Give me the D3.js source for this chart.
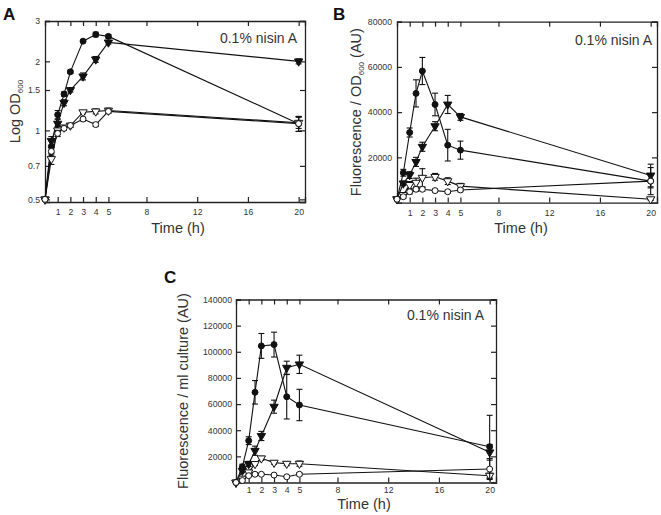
<!DOCTYPE html>
<html><head><meta charset="utf-8">
<script src="https://cdn.jsdelivr.net/npm/d3@7"></script>
<style>body{margin:0;background:#fff} text{font-family:"Liberation Sans",Arial,sans-serif}</style>
</head><body><svg id="c" width="661" height="515"></svg>
<script>
const times = [0, 0.5, 1, 1.5, 2, 3, 4, 5, 20];
const xTicks = [1, 2, 3, 4, 5, 8, 12, 16, 20];

// Panel A: Log OD600
const aTicks = [0.5, 0.7, 1, 1.5, 2, 3];
const aFilledCircle   = [0.5, 0.85, 1.17, 1.44, 1.80, 2.45, 2.62, 2.57, 1.07];
const aFilledCircleE  = [0, 0.05, 0.05, 0.03, 0.03, 0.03, 0.06, 0.05, 0.08];
const aFilledTri      = [0.5, 0.9, 1.07, 1.32, 1.50, 1.72, 2.04, 2.42, 2.0];
const aFilledTriE     = [0, 0.04, 0.05, 0.04, 0.03, 0.06, 0.06, 0.04, 0.05];
const aOpenTri        = [0.5, 0.75, 1.0, 1.03, 1.05, 1.20, 1.21, 1.22, 1.08];
const aOpenTriE       = [0, 0.04, 0.04, 0.02, 0.02, 0.02, 0.03, 0.03, 0.06];
const aOpenCircle     = [0.5, 0.81, 0.97, 1.02, 1.05, 1.12, 1.06, 1.21, 1.07];
const aOpenCircleE    = [0, 0.03, 0.03, 0.02, 0.02, 0.02, 0.02, 0.02, 0.08];

// Panel B: Fluorescence / OD600
const bTicks = [20000, 40000, 60000, 80000];
const bFilledCircle   = [1500, 13200, 31000, 48300, 58200, 43400, 25400, 23200, 9500];
const bFilledCircleE  = [500, 1500, 2000, 6000, 6000, 5000, 7000, 4000, 6000];
const bFilledTri      = [1500, 8500, 12200, 18000, 24700, 33800, 43400, 37900, 12000];
const bFilledTriE     = [500, 1000, 1500, 2000, 2000, 2000, 4000, 1500, 5000];
const bOpenTri        = [1500, 3400, 7800, 8800, 11000, 11400, 9500, 7300, 1500];
const bOpenTriE       = [500, 800, 1500, 2000, 4000, 1500, 1500, 1200, 500];
const bOpenCircle     = [1500, 2600, 4800, 5900, 5900, 5300, 4800, 5600, 9500];
const bOpenCircleE    = [500, 600, 1000, 1000, 800, 600, 600, 800, 3000];

// Panel C: Fluorescence / ml culture
const cTicks = [20000, 40000, 60000, 80000, 100000, 120000, 140000];
const cFilledCircle   = [0, 12000, 32000, 69000, 104500, 105500, 65600, 59300, 27400];
const cFilledCircleE  = [0, 2000, 3000, 9000, 9500, 9500, 17000, 12000, 24000];
const cFilledTri      = [0, 9000, 14200, 24300, 35600, 58000, 87800, 90400, 23100];
const cFilledTriE     = [0, 1500, 2000, 3500, 3500, 5000, 5000, 7000, 6000];
const cOpenTri        = [0, 3000, 7800, 14200, 18500, 15200, 14400, 14400, 5200];
const cOpenTriE       = [0, 500, 1000, 1200, 1500, 1200, 1500, 2000, 2000];
const cOpenCircle     = [0, 1500, 5200, 6300, 6300, 5700, 4400, 6300, 10300];
const cOpenCircleE    = [0, 300, 600, 600, 600, 500, 500, 1000, 8000];

const svg = d3.select("#c");

function panel(cfg) {
  const g = svg.append("g");
  const x = d3.scaleLinear().domain([0, 20.5]).range([cfg.left, cfg.right]);
  const y = (cfg.log ? d3.scaleLog() : d3.scaleLinear()).domain(cfg.ydom).range([cfg.bottom, cfg.top]);
  const tl = 5;
  const bottomAx = d3.axisBottom(x).tickValues(xTicks).tickSize(-tl).tickPadding(cfg.xpad).tickFormat(d3.format("d"));
  const topAx = d3.axisTop(x).tickValues(xTicks).tickSize(-tl).tickFormat("");
  const leftAx = d3.axisLeft(y).tickValues(cfg.yticks).tickSize(-tl).tickPadding(cfg.ypad).tickFormat(cfg.yfmt);
  const rightAx = d3.axisRight(y).tickValues(cfg.yticks).tickSize(-tl).tickFormat("");
  const ax = [
    g.append("g").attr("transform", `translate(0,${cfg.bottom})`).call(bottomAx),
    g.append("g").attr("transform", `translate(0,${cfg.top})`).call(topAx),
    g.append("g").attr("transform", `translate(${cfg.left},0)`).call(leftAx),
    g.append("g").attr("transform", `translate(${cfg.right},0)`).call(rightAx)
  ];
  ax.forEach(a => {
    a.selectAll(".domain").attr("stroke", "#222").attr("stroke-width", 1.3);
    a.selectAll(".tick line").attr("stroke", "#222").attr("stroke-width", 1.2);
    a.selectAll("text").attr("font-size", 8.7).attr("fill", "#333")
      .style("font-family", "Liberation Sans, Arial, sans-serif");
  });

  const line = d3.line().x(d => x(d.t)).y(d => y(d.v));
  cfg.series.forEach(s => {
    const pts = times.map((t, i) => ({ t, v: s.v[i], e: s.e[i] }));
    g.append("path").datum(pts).attr("d", line).attr("fill", "none")
      .attr("stroke", "#111").attr("stroke-width", 1.1);
  });
  cfg.series.forEach(s => {
    const pts = times.map((t, i) => ({ t, v: s.v[i], e: s.e[i] }));
    const eb = g.append("g").attr("stroke", "#111").attr("stroke-width", 1.1);
    pts.filter(d => d.e > 0).forEach(d => {
      const lo = cfg.log ? Math.max(d.v - d.e, cfg.ydom[0]) : d.v - d.e;
      const y1 = y(d.v + d.e), y2 = y(lo);
      eb.append("line").attr("x1", x(d.t)).attr("x2", x(d.t)).attr("y1", y1).attr("y2", y2);
      eb.append("line").attr("x1", x(d.t) - 3).attr("x2", x(d.t) + 3).attr("y1", y1).attr("y2", y1);
      eb.append("line").attr("x1", x(d.t) - 3).attr("x2", x(d.t) + 3).attr("y1", y2).attr("y2", y2);
    });
    const isTri = s.shape === "tri";
    const sym = d3.symbol().type(isTri ? d3.symbolTriangle : d3.symbolCircle).size(isTri ? 30 : 28);
    g.append("g").selectAll("path").data(pts).join("path")
      .attr("d", sym)
      .attr("transform", d => `translate(${x(d.t)},${y(d.v)})` + (isTri ? " rotate(180)" : ""))
      .attr("fill", s.filled ? "#111" : "#fff")
      .attr("stroke", "#111").attr("stroke-width", 1);
  });

  svg.append("text").attr("x", cfg.letter[0]).attr("y", cfg.letter[1])
    .attr("font-size", 17).attr("font-weight", "bold").attr("fill", "#111").text(cfg.letterText);
  svg.append("text").attr("x", cfg.nisin[0]).attr("y", cfg.nisin[1]).attr("text-anchor", "end")
    .attr("font-size", 14).attr("fill", "#333").text("0.1% nisin A");
  svg.append("text").attr("x", cfg.time[0]).attr("y", cfg.time[1])
    .attr("text-anchor", "middle").attr("font-size", 14.5).attr("fill", "#333").text("Time (h)");
  const yl = svg.append("text")
    .attr("transform", `translate(${cfg.ylabX},${(cfg.top + cfg.bottom) / 2}) rotate(-90)`)
    .attr("text-anchor", "middle").attr("font-size", 14.5).attr("fill", "#333");
  cfg.ylab.forEach(p => {
    const ts = yl.append("tspan").text(p.t);
    if (p.sub) ts.attr("font-size", 8).attr("dy", 3);
    else if (p.after) ts.attr("dy", -3);
  });
}

const tri = "tri", circ = "circ";
panel({
  left: 45, right: 305, top: 21, bottom: 202, log: true, ydom: [0.487, 3],
  yticks: aTicks, yfmt: d => String(d), letter: [3, 20], letterText: "A", ylabX: 20,
  nisin: [297, 43], time: [178, 233], xpad: 7, ypad: 5,
  ylab: [{ t: "Log OD" }, { t: "600", sub: true }],
  series: [
    { v: aFilledCircle, e: aFilledCircleE, shape: circ, filled: true },
    { v: aFilledTri, e: aFilledTriE, shape: tri, filled: true },
    { v: aOpenTri, e: aOpenTriE, shape: tri, filled: false },
    { v: aOpenCircle, e: aOpenCircleE, shape: circ, filled: false }
  ]
});
panel({
  left: 397, right: 657, top: 21.7, bottom: 202.6, log: false, ydom: [0, 80000],
  yticks: bTicks, yfmt: d => String(d), letter: [333, 20], letterText: "B", ylabX: 361,
  nisin: [652, 45], time: [521, 233], xpad: 7, ypad: 5,
  ylab: [{ t: "Fluorescence / OD" }, { t: "600", sub: true }, { t: " (AU)", after: true }],
  series: [
    { v: bFilledCircle, e: bFilledCircleE, shape: circ, filled: true },
    { v: bFilledTri, e: bFilledTriE, shape: tri, filled: true },
    { v: bOpenTri, e: bOpenTriE, shape: tri, filled: false },
    { v: bOpenCircle, e: bOpenCircleE, shape: circ, filled: false }
  ]
});
panel({
  left: 236, right: 496, top: 299.5, bottom: 482.5, log: false, ydom: [0, 140000],
  yticks: cTicks, yfmt: d => String(d), letter: [164, 283], letterText: "C", ylabX: 188,
  nisin: [484, 320], time: [364, 509], xpad: 4, ypad: 4,
  ylab: [{ t: "Fluorescence / ml culture (AU)" }],
  series: [
    { v: cFilledCircle, e: cFilledCircleE, shape: circ, filled: true },
    { v: cFilledTri, e: cFilledTriE, shape: tri, filled: true },
    { v: cOpenTri, e: cOpenTriE, shape: tri, filled: false },
    { v: cOpenCircle, e: cOpenCircleE, shape: circ, filled: false }
  ]
});
</script></body></html>
